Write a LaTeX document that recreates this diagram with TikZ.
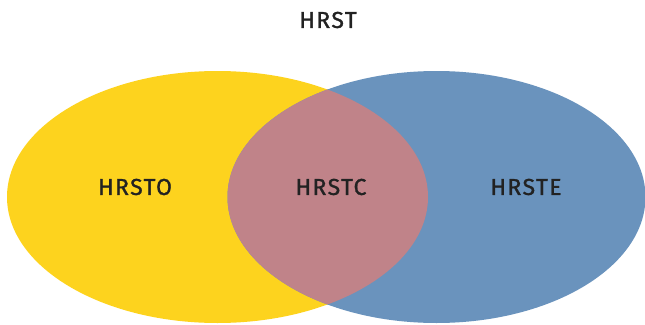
\documentclass[tikz,border=0pt]{standalone}
\usepackage{fontspec}
\setmainfont{Fira Sans}[LetterSpace=6, FakeBold=1.2]
\usepackage{xcolor}
\usepackage{tikz}
\definecolor{setyellow}{HTML}{FDD31E}
\definecolor{setblue}{HTML}{6A93BD}
\definecolor{setboth}{HTML}{C08389}
\definecolor{labelgray}{HTML}{222222}

\begin{document}
\begin{tikzpicture}[
  x=1pt, y=-1pt,
  every node/.style={font=\fontsize{23}{26}\selectfont, text=labelgray},
  lbl/.style={anchor=center, inner sep=0pt}
]
  \useasboundingbox (0,0) rectangle (645,324);

  % the two sets
  \fill[setyellow] (217.5,197) ellipse [x radius=210.5, y radius=126];
  \fill[setblue] (436.5,197) ellipse [x radius=209, y radius=126];
  \begin{scope}
    \clip (217.5,197) ellipse [x radius=210.5, y radius=126];
    \fill[setboth] (436.5,197) ellipse [x radius=209, y radius=126];
  \end{scope}

  \node[lbl] (title) at (328,20) {HRST};
  \node[lbl] (hrsto) at (135,187) {HRSTO};
  \node[lbl] (hrstc) at (331,187) {HRSTC};
  \node[lbl] (hrste) at (526,187) {HRSTE};
\end{tikzpicture}
\end{document}
